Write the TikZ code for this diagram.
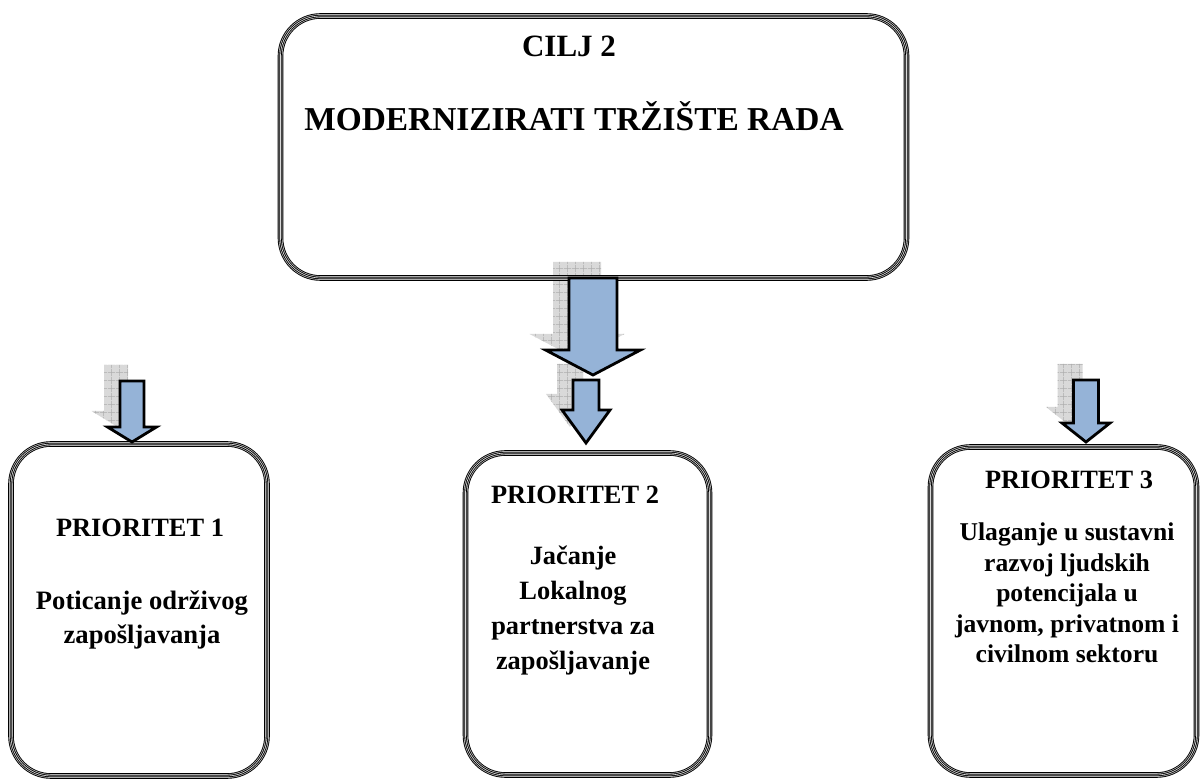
\documentclass[tikz,border=0pt]{standalone}
\usepackage{fontspec}
\setmainfont{Liberation Serif}
\usetikzlibrary{patterns.meta}
\definecolor{arrowblue}{RGB}{149,179,215}
\tikzset{
  fbox/.style={rectangle, rounded corners=20pt, inner sep=0pt,
    preaction={draw=black, line width=2.8pt},
    preaction={draw=gray!45, line width=1.9pt},
    postaction={draw=black, line width=1.2pt},
    postaction={draw=gray!30, line width=0.35pt}},
  shadowarrow/.style={fill=gray!30, postaction={pattern={Hatch[angle=0,distance=4pt,line width=0.35pt]}, pattern color=gray!65}},
  mainarrow/.style={fill=arrowblue, draw=black, line width=1.4pt, line join=miter},
  txt/.style={font=\bfseries, align=center, inner sep=0pt},
}
% #1 cx, #2 shaft half, #3 top, #4 shaft end, #5 head half, #6 tip, #7 style
\newcommand{\blockarr}[7]{%
  \path[#7] (#1-#2,#3) -- (#1+#2,#3) -- (#1+#2,#4) -- (#1+#5,#4) -- (#1,#6)
    -- (#1-#5,#4) -- (#1-#2,#4) -- cycle;}
\begin{document}
\begin{tikzpicture}[x=0.5pt,y=-0.5pt]
\useasboundingbox (0,0) rectangle (1200,780);
% shadows
\blockarr{577}{24}{262}{334}{47.5}{359}{shadowarrow}
\blockarr{570}{13}{364}{394}{24}{427}{shadowarrow}
\blockarr{116}{12}{365}{411}{24.5}{426}{shadowarrow}
\blockarr{1070}{12.5}{364}{407}{24}{426}{shadowarrow}
% boxes
\node[fbox, minimum width=313pt, minimum height=131pt] (cilj) at (593.5,147) {};
\node[fbox, minimum width=128pt, minimum height=166pt] (p1) at (139,610) {};
\node[fbox, minimum width=122pt, minimum height=161pt] (p2) at (587.5,614) {};
\node[fbox, minimum width=133pt, minimum height=164pt] (p3) at (1063.5,611) {};
% main arrows
\blockarr{593}{24}{278}{350}{47.5}{375}{mainarrow}
\blockarr{586}{13}{380}{410}{24}{443}{mainarrow}
\blockarr{132}{12}{381}{427}{24.5}{442}{mainarrow}
\blockarr{1086}{12.5}{380}{423}{24}{442}{mainarrow}
% texts
\node[txt, font=\bfseries\fontsize{15.5}{20}\selectfont] (t0) at (569,46) {CILJ 2};
\node[txt, font=\bfseries\fontsize{16.7}{20}\selectfont] (t0b) at (574,116) {MODERNIZIRATI TRŽIŠTE RADA};
\node[txt, font=\bfseries\fontsize{13.2}{17}\selectfont] (t1) at (140,528) {PRIORITET 1};
\node[txt, font=\bfseries\fontsize{13.3}{17}\selectfont] (t1b) at (142,620) {Poticanje održivog\\zapošljavanja};
\node[txt, font=\bfseries\fontsize{13.2}{17}\selectfont] (t2) at (575,495) {PRIORITET 2};
\node[txt, font=\bfseries\fontsize{13.2}{17.5}\selectfont] (t2b) at (573,611) {Jačanje\\Lokalnog\\partnerstva za\\zapošljavanje};
\node[txt, font=\bfseries\fontsize{13.2}{17}\selectfont] (t3) at (1069,480) {PRIORITET 3};
\node[txt, font=\bfseries\fontsize{12.8}{15.2}\selectfont] (t3b) at (1067,593) {Ulaganje u sustavni\\razvoj ljudskih\\potencijala u\\javnom, privatnom i\\civilnom sektoru};
\end{tikzpicture}
\end{document}
